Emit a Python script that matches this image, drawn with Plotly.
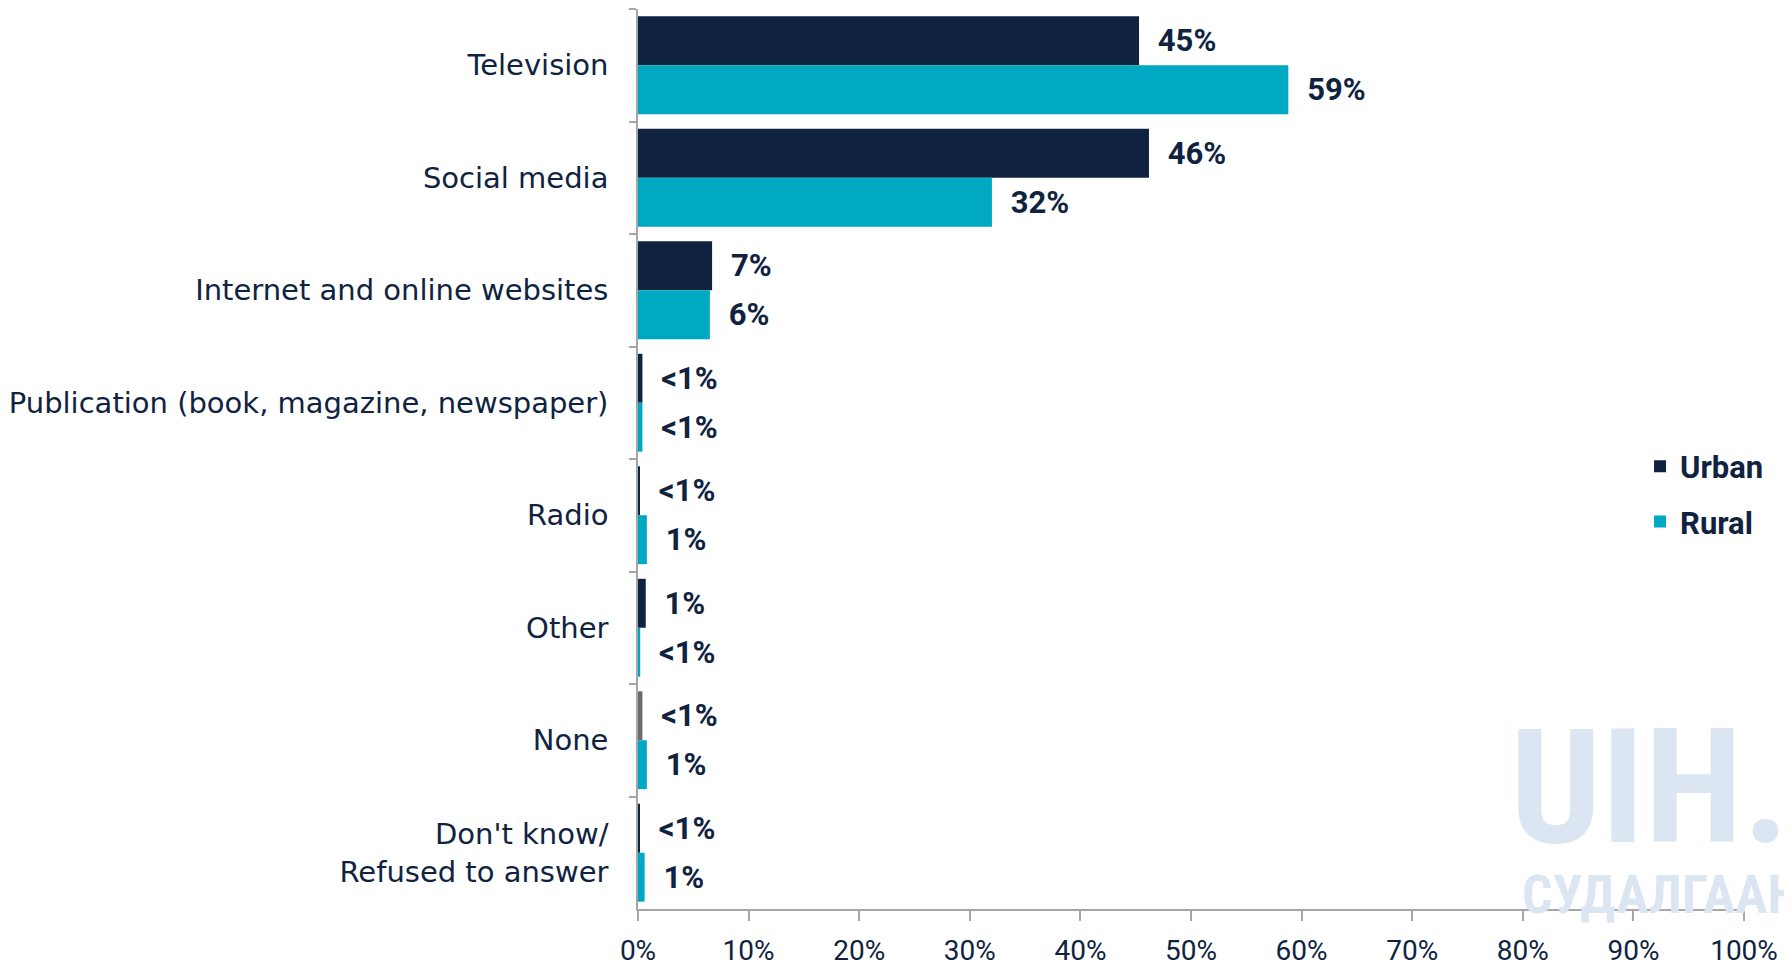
import plotly.graph_objects as go

# data
categories = ["Television", "Social media", "Internet and online websites",
              "Publication (book, magazine, newspaper)", "Radio", "Other", "None",
              "Don't know/<br>Refused to answer"]
urban = [45.3, 46.2, 6.7, 0.4, 0.1, 0.7, 0.4, 0.1]
rural = [58.8, 32.0, 6.5, 0.4, 0.8, 0.2, 0.8, 0.6]
urban_labels = ["45%", "46%", "7%", "<1%", "<1%", "1%", "<1%", "<1%"]
rural_labels = ["59%", "32%", "6%", "<1%", "1%", "<1%", "1%", "1%"]
x_ticks = [0, 10, 20, 30, 40, 50, 60, 70, 80, 90, 100]

NAVY = "#0F2341"
TEAL = "#00A9C2"
GREY = "#6B6B6B"
AXIS = "#A6A6A6"
WATERMARK = "#DCE6F2"
CAT_FONT = "DejaVu Sans, sans-serif"
NUM_FONT = "Roboto, sans-serif"
WM_FONT = "Roboto Condensed, Roboto, sans-serif"

# urban "None" bar is drawn grey in the original
urban_colors = [GREY if c == "None" else NAVY for c in categories]

label_font = dict(family=NUM_FONT, size=31, color=NAVY, weight="bold")

fig = go.Figure()
fig.add_trace(go.Bar(
    y=categories, x=urban, orientation="h", name="Urban",
    marker=dict(color=urban_colors, line_width=0),
    text=urban_labels, texttemplate="\u2002%{text}", textposition="outside",
    textfont=label_font, cliponaxis=False, legendgroup="u",
))
fig.add_trace(go.Bar(
    y=categories, x=rural, orientation="h", name="Rural",
    marker=dict(color=TEAL, line_width=0),
    text=rural_labels, texttemplate="\u2002%{text}", textposition="outside",
    textfont=label_font, cliponaxis=False, legendgroup="r",
))

# faint watermark, cut off at the right edge like the source
fig.add_annotation(x=0.7867, y=0.0289, xref="paper", yref="paper", xanchor="left", yanchor="bottom",
                   text="UIH.MN", showarrow=False,
                   font=dict(family=WM_FONT, color=WATERMARK, weight="bold", size=160))
fig.add_annotation(x=0.7975, y=-0.0211, xref="paper", yref="paper", xanchor="left", yanchor="bottom",
                   text="СУДАЛГААНЫ", showarrow=False,
                   font=dict(family=WM_FONT, color=WATERMARK, weight="bold", size=54))

fig.update_layout(
    width=1792, height=967,
    margin=dict(l=624, r=56, t=1, b=66),
    barmode="group", bargap=0.13, bargroupgap=0,
    plot_bgcolor="white", paper_bgcolor="white",
    font=dict(family=CAT_FONT, color=NAVY),
    xaxis=dict(
        range=[0, 100], tickvals=x_ticks, ticktext=[f"{v}%" for v in x_ticks],
        showgrid=False, zeroline=False, showline=True, linecolor=AXIS, linewidth=1.5,
        ticks="outside", ticklen=10, tickcolor=AXIS, tickwidth=1.5,
        tickfont=dict(family=NUM_FONT, size=28, color=NAVY), ticklabelstandoff=6,
    ),
    yaxis=dict(
        autorange="reversed", showgrid=False, zeroline=False,
        showline=True, linecolor=AXIS, linewidth=1.5,
        ticks="outside", tickson="boundaries", ticklen=7, tickcolor=AXIS, tickwidth=1.5,
        tickfont=dict(family=CAT_FONT, size=29, color=NAVY), ticklabelstandoff=22,
    ),
    legend=dict(
        x=0.906, xanchor="left", y=0.461, yanchor="middle",
        font=dict(family=NUM_FONT, size=31, color=NAVY, weight="bold"), tracegroupgap=12,
        bgcolor="rgba(0,0,0,0)",
    ),
    showlegend=True,
)

fig.write_html("out.html")
